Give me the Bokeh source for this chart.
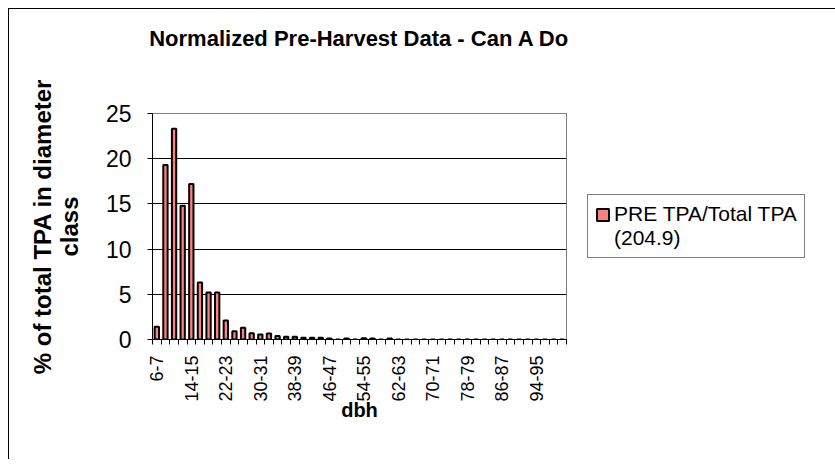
import numpy as np
from bokeh.plotting import figure
from bokeh.models import Range1d, FixedTicker, Legend, LegendItem, Title
from bokeh.embed import file_html
from bokeh.resources import INLINE

categories = ["6-7", "8-9", "10-11", "12-13", "14-15", "16-17", "18-19", "20-21",
              "22-23", "24-25", "26-27", "28-29", "30-31", "32-33", "34-35", "36-37",
              "38-39", "40-41", "42-43", "44-45", "46-47", "48-49", "50-51", "52-53",
              "54-55", "56-57", "58-59", "60-61", "62-63", "64-65", "66-67", "68-69",
              "70-71", "72-73", "74-75", "76-77", "78-79", "80-81", "82-83", "84-85",
              "86-87", "88-89", "90-91", "92-93", "94-95", "96-97", "98-99", "100-101"]
values = [1.4, 19.3, 23.3, 14.8, 17.2, 6.3, 5.2, 5.2,
          2.1, 0.9, 1.3, 0.7, 0.55, 0.65, 0.4, 0.3,
          0.3, 0.2, 0.2, 0.2, 0.1, 0.0, 0.1, 0.0,
          0.15, 0.1, 0.0, 0.1, 0.0, 0.0, 0.0, 0.0,
          0.0, 0.0, 0.0, 0.0, 0.0, 0.0, 0.0, 0.0,
          0.0, 0.0, 0.0, 0.0, 0.0, 0.0, 0.0, 0.0]
y_ticks = [0, 5, 10, 15, 20, 25]
series_name_lines = ["PRE TPA/Total TPA", "(204.9)"]
title = "Normalized Pre-Harvest Data - Can A Do"
x_title = "dbh"
y_title = "% of total TPA in diameter\nclass"

n = len(categories)
xpos = np.arange(n) + 0.5
FONT = "Liberation Sans"
BAR_FILL = "#FF8080"

p = figure(frame_width=414, frame_height=226, output_backend="svg",
           toolbar_location=None,
           x_range=Range1d(0, n), y_range=Range1d(0, 25),
           min_border_left=143, min_border_right=0, min_border_top=104,
           min_border_bottom=120)
p.margin = (8, 0, 0, 8)
p.styles = {"border-left": "1px solid black", "border-top": "1px solid black"}
p.title.text = ""

spacer = Title(text=" ", text_font_size="1px", standoff=60)
p.add_layout(spacer, "above")
main_title = Title(text=title, align="center", text_font=FONT,
                   text_font_size="22px", text_font_style="bold",
                   text_color="black", standoff=0)
p.add_layout(main_title, "above")

r = p.vbar(x=xpos, top=values, width=0.5, bottom=0,
           fill_color=BAR_FILL, line_color="black", line_width=2)
# invisible renderer used only for the second legend text line
r_blank = p.vbar(x=[], top=[], width=0.5, fill_alpha=0, line_alpha=0)

p.xgrid.visible = False
p.ygrid.grid_line_color = "black"
p.ygrid.grid_line_width = 1
p.ygrid.ticker = FixedTicker(ticks=y_ticks)
p.outline_line_color = "#808080"
p.outline_line_width = 1

ya = p.yaxis[0]
ya.ticker = FixedTicker(ticks=y_ticks)
ya.axis_label = y_title
ya.axis_label_text_font = FONT
ya.axis_label_text_font_size = "24px"
ya.axis_label_text_font_style = "bold"
ya.axis_label_text_color = "black"
ya.axis_label_text_line_height = 1.0
ya.axis_label_standoff = 20
ya.major_label_text_font = FONT
ya.major_label_text_font_size = "23px"
ya.major_label_text_color = "black"
ya.major_label_standoff = 16
ya.major_tick_out = 5
ya.major_tick_in = 0
ya.minor_tick_line_color = None
ya.axis_line_color = "black"

xa = p.xaxis[0]
label_ticks = [float(xpos[i]) for i in range(0, n, 4)]
xa.ticker = FixedTicker(ticks=label_ticks, minor_ticks=list(range(n + 1)))
xa.major_label_overrides = {float(xpos[i]): categories[i] for i in range(0, n, 4)}
xa.major_label_orientation = np.pi / 2
xa.major_label_text_font = FONT
xa.major_label_text_font_size = "18px"
xa.major_label_text_color = "black"
xa.major_label_standoff = 11
xa.major_tick_line_color = None
xa.major_tick_out = 5
xa.minor_tick_out = 5
xa.minor_tick_in = 0
xa.minor_tick_line_color = "black"
xa.axis_label = x_title
xa.axis_label_text_font = FONT
xa.axis_label_text_font_size = "20px"
xa.axis_label_text_font_style = "bold"
xa.axis_label_text_color = "black"
xa.axis_label_standoff = -6

legend = Legend(items=[LegendItem(label=series_name_lines[0], renderers=[r]),
                       LegendItem(label=series_name_lines[1], renderers=[r_blank])],
                location="left")
legend.label_text_font = FONT
legend.label_text_font_size = "21px"
legend.label_text_color = "black"
legend.label_height = 24
legend.border_line_color = "black"
legend.border_line_width = 1
legend.padding = 7
legend.margin = 21
legend.glyph_width = 15
legend.glyph_height = 15
legend.label_standoff = 4
legend.spacing = 0
p.add_layout(legend, "right")

open("out.html", "w").write(file_html(p, INLINE))
